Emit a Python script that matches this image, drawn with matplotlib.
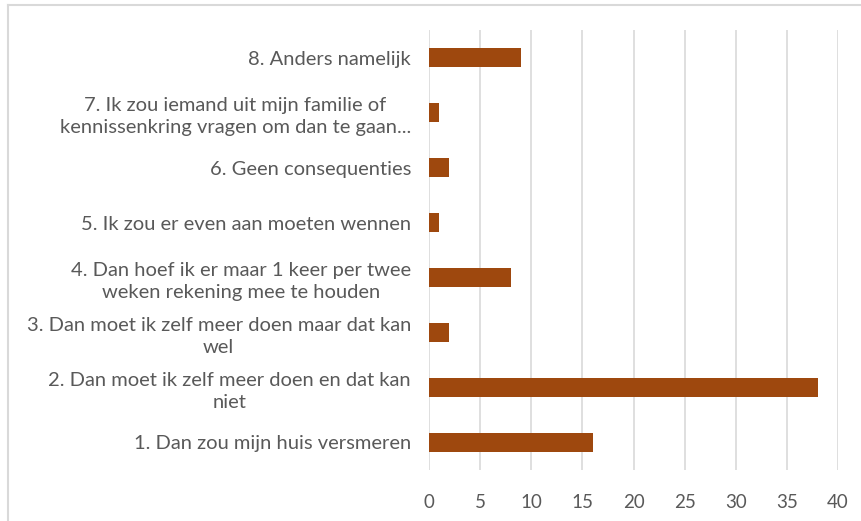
import matplotlib.pyplot as plt
from matplotlib.lines import Line2D

plt.rcParams["font.family"] = ["Lato", "DejaVu Sans"]

labels = [
    '1. Dan zou mijn huis versmeren',
    '2. Dan moet ik zelf meer doen en dat kan\nniet',
    '3. Dan moet ik zelf meer doen maar dat kan\nwel',
    '4. Dan hoef ik er maar 1 keer per twee\nweken rekening mee te houden',
    '5. Ik zou er even aan moeten wennen',
    '6. Geen consequenties',
    '7. Ik zou iemand uit mijn familie of\nkennissenkring vragen om dan te gaan...',
    '8. Anders namelijk',
]
values = [16, 38, 2, 8, 1, 2, 1, 9]
xticks = [0, 5, 10, 15, 20, 25, 30, 35, 40]

text_color = '#595959'
grid_color = '#d9d9d9'
bar_color = '#9e480e'

fig = plt.figure(figsize=(8.62, 5.21), dpi=100)
ax = fig.add_axes([429 / 862, 1 - 470 / 521, (838 - 429) / 862, (470 - 30) / 521])

ax.barh(range(len(values)), values, height=0.35, color=bar_color, zorder=3)
ax.set_xlim(0, 40)
ax.set_ylim(-0.5, 7.5)
ax.set_xticks(xticks)
ax.set_yticks(range(len(labels)))
ax.set_yticklabels(labels, multialignment='center', linespacing=1.35)

ax.grid(axis='x', color=grid_color, linewidth=1.2, zorder=0)
for s in ax.spines.values():
    s.set_visible(False)
ax.tick_params(axis='both', length=0, colors=text_color)
ax.tick_params(axis='y', pad=13, labelsize=14.5)
ax.tick_params(axis='x', pad=17, labelsize=13.5)

# outer chart border (left and top only visible in the crop)
fig.add_artist(Line2D([8 / 862, 8 / 862], [0, 1 - 5 / 521],
                      transform=fig.transFigure, color=grid_color, linewidth=1.5))
fig.add_artist(Line2D([8 / 862, 1], [1 - 5 / 521, 1 - 5 / 521],
                      transform=fig.transFigure, color=grid_color, linewidth=1.5))

plt.savefig('out.png', dpi=100)
